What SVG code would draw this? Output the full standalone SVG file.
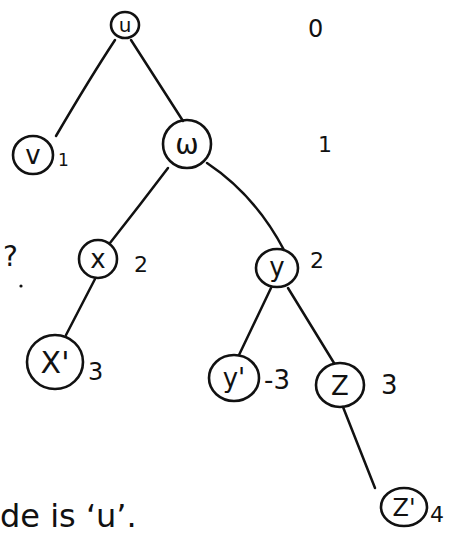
<svg xmlns="http://www.w3.org/2000/svg" width="460" height="538" viewBox="0 0 460 538">
<style>
.n{fill:none;stroke:#111;stroke-width:2.6}
.e{fill:none;stroke:#111;stroke-width:2.5;stroke-linecap:round}
.t{font-family:"DejaVu Sans","Liberation Sans",sans-serif;fill:#111;text-anchor:middle}
.l{font-family:"DejaVu Sans","Liberation Sans",sans-serif;fill:#111}
</style>
<rect width="460" height="538" fill="#fff"/>
<g id="connectors">
<path class="e" d="M115,40 Q90,78 56,136"/>
<path class="e" d="M131,40 L183,121"/>
<path class="e" d="M168,168 Q140,205 110,243"/>
<path class="e" d="M207,163 Q255,195 284,250"/>
<path class="e" d="M95,279 L66,335"/>
<path class="e" d="M271,288 L239,355"/>
<path class="e" d="M288,288 L334,363"/>
<path class="e" d="M343,407 L375,488"/>
</g>
<g id="node-u"><ellipse class="n" cx="125" cy="25" rx="14" ry="13"/><text class="t" x="125" y="32" font-size="20">u</text></g>
<g id="node-v"><ellipse class="n" cx="33" cy="155" rx="20" ry="19"/><text class="t" x="33" y="164" font-size="26">v</text><text class="l" x="58" y="166" font-size="17">1</text></g>
<g id="node-w"><ellipse class="n" cx="187" cy="144" rx="24" ry="24"/><text class="t" x="187" y="154" font-size="28">ω</text></g>
<g id="node-x"><ellipse class="n" cx="98" cy="259" rx="19" ry="19"/><text class="t" x="98" y="268" font-size="26">x</text><text class="l" x="134" y="272" font-size="22">2</text></g>
<g id="node-y"><ellipse class="n" cx="277" cy="268" rx="21" ry="19"/><text class="t" x="277" y="276" font-size="26">y</text><text class="l" x="310" y="268" font-size="22">2</text></g>
<g id="node-x1"><ellipse class="n" cx="55" cy="362" rx="28" ry="27"/><text class="t" x="55" y="373" font-size="30">X'</text><text class="l" x="88" y="380" font-size="24">3</text></g>
<g id="node-y1"><ellipse class="n" cx="234" cy="378" rx="25" ry="23"/><text class="t" x="234" y="387" font-size="26">y'</text><text class="l" x="264" y="389" font-size="26">-3</text></g>
<g id="node-z"><ellipse class="n" cx="340" cy="385" rx="24" ry="22"/><text class="t" x="340" y="395" font-size="26">Z</text><text class="l" x="381" y="394" font-size="26">3</text></g>
<g id="node-z1"><ellipse class="n" cx="404" cy="507" rx="23" ry="19"/><text class="t" x="404" y="516" font-size="24">Z'</text><text class="l" x="430" y="522" font-size="22">4</text></g>
<g id="levels">
<text class="l" x="308" y="37" font-size="24">0</text>
<text class="l" x="318" y="152" font-size="22">1</text>
<text class="l" x="3" y="266" font-size="28">?</text>
<circle cx="21" cy="286" r="1.6" fill="#111"/>
</g>
<text class="l" x="0" y="527" font-size="32">de is ‘u’.</text>
</svg>
